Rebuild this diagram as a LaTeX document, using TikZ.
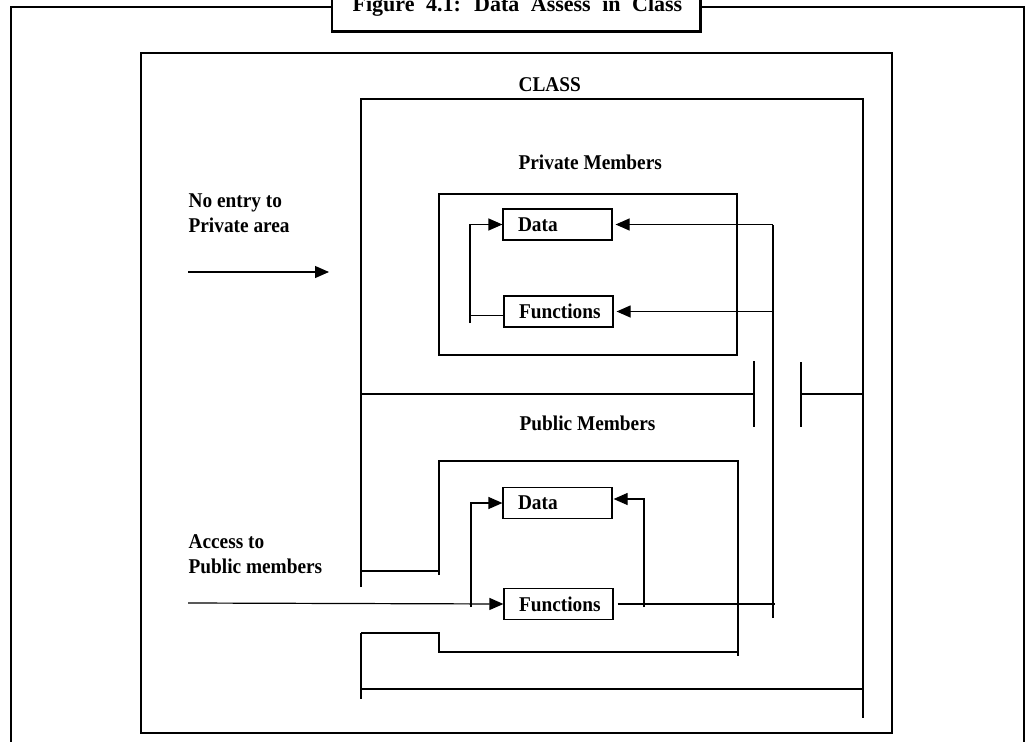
\documentclass[tikz,border=0pt]{standalone}
\usepackage{fontspec}
\setmainfont{Liberation Serif}
\newfontfamily\labfont{Liberation Serif}[FakeStretch=0.92]
\usetikzlibrary{arrows.meta,positioning}

\begin{document}
\begin{tikzpicture}[x=1pt,y=-1pt,line width=1.2pt,
        lbl/.style={inner sep=0pt,anchor=base west,align=left,font=\labfont\bfseries\fontsize{21}{25}\selectfont},
        membox/.style={draw,minimum height=31pt,text width=79pt,inner xsep=15pt,inner ysep=0pt,align=left,font=\labfont\bfseries\fontsize{21}{25}\selectfont},
        tip/.style={-{Triangle[length=14pt,width=12pt]}},
        frame/.style={line width=2.5pt}]
        \useasboundingbox (0,0) rectangle (1027,741);
        \draw[frame] (11,7) rectangle (1024,760);
        \draw[fill=white,line width=1.5pt] (332,-30) rectangle (700,32);
        \draw[line width=3pt] (332,32) -- (700,32) -- (700,-30);
        \node[lbl,font=\fontsize{22}{26}\selectfont\bfseries] (title) at (352,12) {\spaceskip=11.5pt Figure 4.1: Data Assess in Class};
        \draw (141,53) rectangle (892,733);
        \node[lbl] (class) at (518,92) {CLASS};
        \draw (361,587) -- (361,99) -- (863,99) -- (863,718);
        \draw (361,394) -- (754,394);
        \draw (754,361) -- (754,427);
        \draw (801,362) -- (801,427);
        \draw (801,394) -- (863,394);
        \draw (361,571) -- (439,571);
        \draw (439,575) -- (439,461) -- (738,461) -- (738,656);
        \draw (738,652) -- (439,652) -- (439,633) -- (361,633);
        \draw (361,633) -- (361,699);
        \draw (361,689) -- (863,689);
        \node[lbl] (private) at (518,169) {Private Members};
        \node[lbl] (public) at (519,430) {Public Members};
        \draw (439,194) rectangle (737,355);
        \node[membox] (pdata) at (557.5,224.5) {Data};
        \node[membox] (pfunc) at (558.5,311.5) {Functions};
        \node[membox] (udata) at (557.5,503) {Data};
        \node[membox] (ufunc) at (558.5,604) {Functions};
        \node[lbl] (noentry) at (188,232) {No entry to\\Private area};
        \node[lbl] (access) at (188,573) {Access to\\Public members};
        \coordinate (bus) at (773,618);
        \coordinate (ploop) at (470,323);
        \coordinate (uloop) at (471,607);
        \coordinate (uback) at (644,607);
        \coordinate (privin) at (188,272);
        \coordinate (privstop) at (329,272);
        \coordinate (pubin) at (188,603);
        \draw[tip] (privin) -- (privstop);
        \draw (bus) -- (bus |- pdata.east);
        \draw[tip,shorten >=3pt] (bus |- pdata.east) -- (pdata.east);
        \draw[tip,shorten >=3pt] (bus |- pfunc.east) -- (pfunc.east);
        \draw[tip] (ploop) |- (pdata.west);
        \draw ([yshift=-4pt]pfunc.west) -| (ploop);
        \draw[tip] (pubin) -- (ufunc.west);
        \draw[tip] (uloop) |- (udata.west);
        \draw[tip,shorten >=1pt] (uback) |- ([yshift=4pt]udata.east);
        \draw[shorten <=4pt] (ufunc.east) -- (ufunc.east -| bus) -- ++(2,0);
    \end{tikzpicture}
\end{document}
